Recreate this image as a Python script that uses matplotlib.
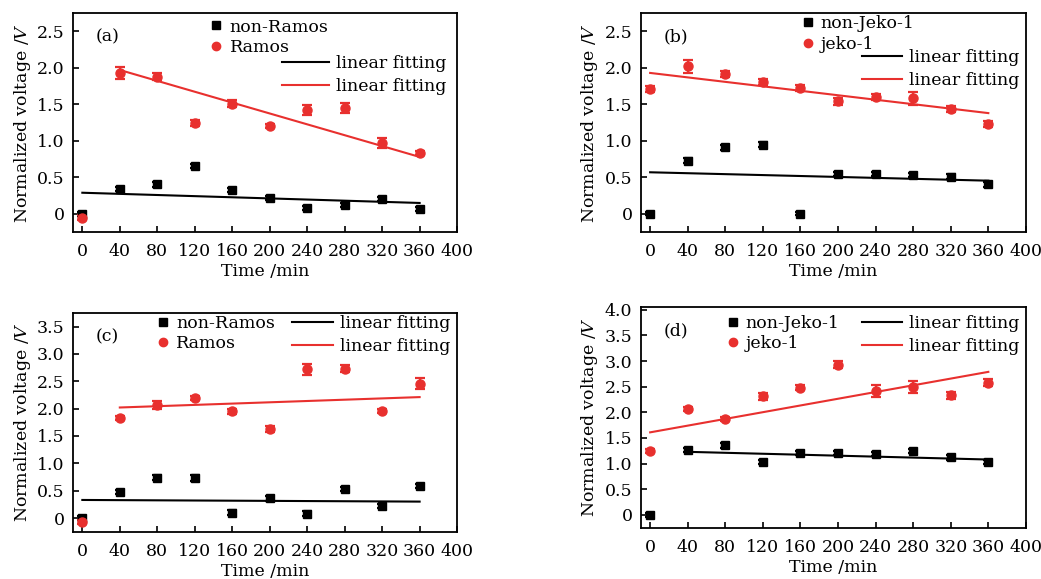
import matplotlib

matplotlib.use("Agg")
import matplotlib.pyplot as plt
from matplotlib.lines import Line2D
from matplotlib.ticker import FuncFormatter

plt.rcParams["font.family"] = "DejaVu Serif"
plt.rcParams["mathtext.fontset"] = "dejavuserif"

# time points (min)
time_min = [0, 40, 80, 120, 160, 200, 240, 280, 320, 360]

# (a) Ramos
a_ctrl = [0.0, 0.34, 0.405, 0.66, 0.33, 0.22, 0.08, 0.12, 0.20, 0.07]
a_ctrl_err = [0.03, 0.03, 0.03, 0.03, 0.03, 0.03, 0.03, 0.03, 0.03, 0.03]
a_cell = [-0.05, 1.93, 1.88, 1.25, 1.51, 1.20, 1.42, 1.45, 0.97, 0.83]
a_cell_err = [0.03, 0.08, 0.05, 0.04, 0.05, 0.03, 0.07, 0.07, 0.07, 0.03]
a_fit_ctrl = ([0, 360], [0.29, 0.15])
a_fit_cell = ([40, 360], [1.97, 0.78])

# (b) Jeko-1
b_ctrl = [0.0, 0.73, 0.91, 0.95, 0.0, 0.545, 0.545, 0.53, 0.51, 0.405]
b_ctrl_err = [0.02, 0.03, 0.03, 0.03, 0.02, 0.03, 0.03, 0.03, 0.03, 0.03]
b_cell = [1.71, 2.02, 1.91, 1.81, 1.72, 1.54, 1.60, 1.58, 1.44, 1.23]
b_cell_err = [0.04, 0.09, 0.04, 0.04, 0.04, 0.05, 0.04, 0.09, 0.04, 0.04]
b_fit_ctrl = ([0, 360], [0.57, 0.455])
b_fit_cell = ([0, 360], [1.93, 1.38])

# (c) Ramos
c_ctrl = [0.0, 0.47, 0.74, 0.73, 0.10, 0.36, 0.08, 0.53, 0.22, 0.59]
c_ctrl_err = [0.04, 0.04, 0.05, 0.05, 0.04, 0.04, 0.04, 0.04, 0.04, 0.04]
c_cell = [-0.07, 1.83, 2.07, 2.19, 1.95, 1.63, 2.72, 2.73, 1.96, 2.45]
c_cell_err = [0.04, 0.04, 0.07, 0.04, 0.04, 0.06, 0.10, 0.06, 0.04, 0.10]
c_fit_ctrl = ([0, 360], [0.33, 0.30])
c_fit_cell = ([40, 360], [2.02, 2.21])

# (d) Jeko-1
d_ctrl = [0.0, 1.26, 1.36, 1.04, 1.20, 1.21, 1.18, 1.245, 1.12, 1.03]
d_ctrl_err = [0.04, 0.04, 0.05, 0.04, 0.04, 0.04, 0.04, 0.04, 0.04, 0.04]
d_cell = [1.245, 2.07, 1.87, 2.31, 2.48, 2.93, 2.41, 2.50, 2.33, 2.58]
d_cell_err = [0.04, 0.04, 0.04, 0.07, 0.05, 0.07, 0.12, 0.12, 0.06, 0.07]
d_fit_ctrl = ([40, 360], [1.23, 1.08])
d_fit_cell = ([0, 360], [1.61, 2.79])

RED = "#e8302e"
FS = 12.5


def yfmt(v, pos):
    return "0" if abs(v) < 1e-9 else f"{v:.1f}"


def draw_panel(ax, tag, ctrl, ctrl_err, cell, cell_err, fit_ctrl, fit_cell,
               names, ylim, yticks, leg_a, leg_b, hlen):
    ax.errorbar(time_min, ctrl, yerr=ctrl_err, fmt="s", color="black",
                ms=5.5, capsize=3.5, elinewidth=1.6, capthick=1.6)
    ax.errorbar(time_min, cell, yerr=cell_err, fmt="o", color=RED,
                ms=6.5, capsize=3.5, elinewidth=1.6, capthick=1.6)
    ax.plot(fit_ctrl[0], fit_ctrl[1], color="black", lw=1.5)
    ax.plot(fit_cell[0], fit_cell[1], color=RED, lw=1.5)

    ax.set_xlim(-10, 400)
    ax.set_ylim(*ylim)
    ax.set_xticks(range(0, 401, 40))
    ax.set_yticks(yticks)
    ax.yaxis.set_major_formatter(FuncFormatter(yfmt))
    ax.tick_params(direction="in", length=4, width=1.2, labelsize=FS)
    ax.tick_params(axis="x", pad=8)
    ax.tick_params(axis="y", pad=6)
    for sp in ax.spines.values():
        sp.set_linewidth(1.3)
    ax.set_xlabel("Time /min", fontsize=FS, labelpad=2)
    ax.set_ylabel("Normalized voltage /$V$", fontsize=FS, labelpad=3)
    ax.text(0.06, 0.93, tag, transform=ax.transAxes, fontsize=FS, va="top")

    pts = [Line2D([], [], marker="s", ls="none", color="black", ms=5.5),
           Line2D([], [], marker="o", ls="none", color=RED, ms=6)]
    lines = [Line2D([], [], color="black", lw=1.5),
             Line2D([], [], color=RED, lw=1.5)]
    l1 = ax.legend(pts, names, loc="upper left", bbox_to_anchor=leg_a,
                   frameon=False, fontsize=FS, handlelength=0.6,
                   handletextpad=0.45, labelspacing=0.2, borderaxespad=0,
                   borderpad=0)
    ax.add_artist(l1)
    ax.legend(lines, ["linear fitting", "linear fitting"], loc="upper left",
              bbox_to_anchor=leg_b, frameon=False, fontsize=FS,
              handlelength=hlen, handletextpad=0.4, labelspacing=0.35,
              borderaxespad=0, borderpad=0)


fig = plt.figure(figsize=(10.41, 5.79), dpi=100)
ax_a = fig.add_axes([0.0701, 0.599, 0.369, 0.3785])
ax_b = fig.add_axes([0.6155, 0.599, 0.370, 0.3785])
ax_c = fig.add_axes([0.0701, 0.0817, 0.369, 0.378])
ax_d = fig.add_axes([0.6155, 0.0886, 0.370, 0.3807])

draw_panel(ax_a, "(a)", a_ctrl, a_ctrl_err, a_cell, a_cell_err,
           a_fit_ctrl, a_fit_cell, ["non-Ramos", "Ramos"],
           (-0.25, 2.75), [0, 0.5, 1.0, 1.5, 2.0, 2.5],
           (0.36, 0.975), (0.545, 0.81), 2.7)
draw_panel(ax_b, "(b)", b_ctrl, b_ctrl_err, b_cell, b_cell_err,
           b_fit_ctrl, b_fit_cell, ["non-Jeko-1", "jeko-1"],
           (-0.25, 2.75), [0, 0.5, 1.0, 1.5, 2.0, 2.5],
           (0.42, 0.99), (0.575, 0.835), 2.3)
draw_panel(ax_c, "(c)", c_ctrl, c_ctrl_err, c_cell, c_cell_err,
           c_fit_ctrl, c_fit_cell, ["non-Ramos", "Ramos"],
           (-0.25, 3.75), [0, 0.5, 1.0, 1.5, 2.0, 2.5, 3.0, 3.5],
           (0.222, 0.99), (0.571, 0.99), 2.35)
draw_panel(ax_d, "(d)", d_ctrl, d_ctrl_err, d_cell, d_cell_err,
           d_fit_ctrl, d_fit_cell, ["non-Jeko-1", "jeko-1"],
           (-0.25, 4.05), [0, 0.5, 1.0, 1.5, 2.0, 2.5, 3.0, 3.5, 4.0],
           (0.225, 0.965), (0.575, 0.965), 2.3)

fig.savefig("out.png", dpi=100)
